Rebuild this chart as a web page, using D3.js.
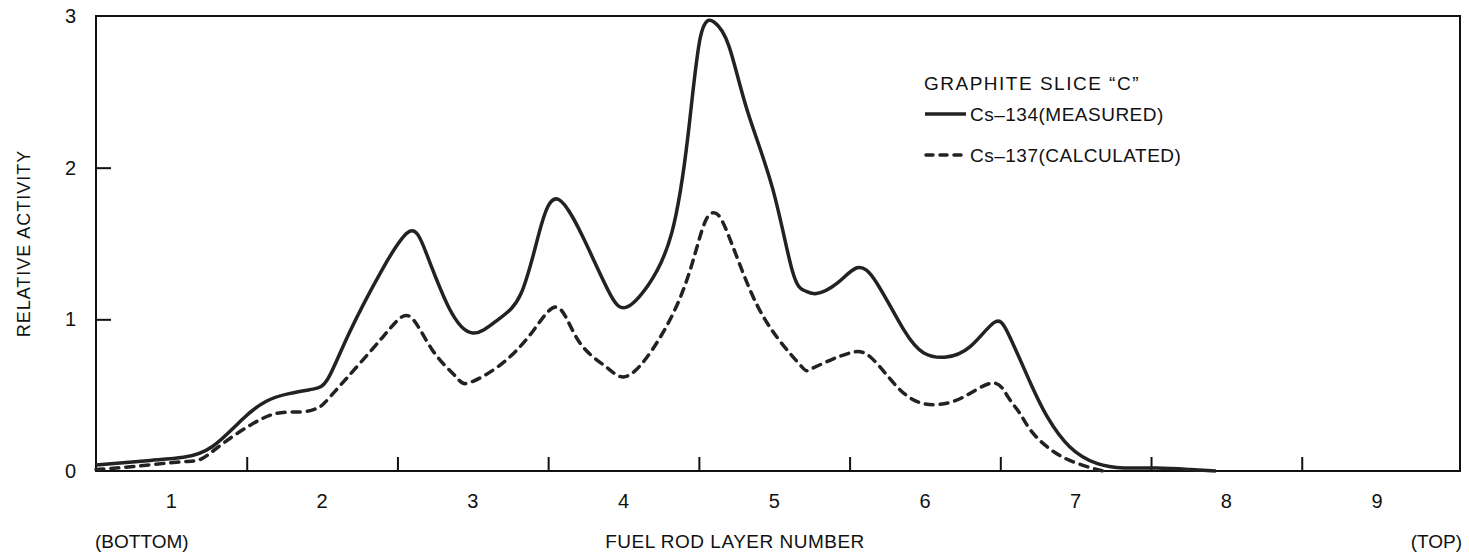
<html>
  <head>
    <script src="https://d3js.org/d3.v7.min.js"></script>
    <style>
      body { margin: 0; background: #fff; }
      text { font-family: "Liberation Sans", Arial, sans-serif; fill: #111; }
    </style>
  </head>

  <body>
    <script type="text/javascript">
      // layer position / relative activity
      var measuredX = [0.5,0.86,1.08,1.27,1.47,1.63,1.78,1.94,2.04,2.18,2.40,2.58,2.69,2.84,3.0,3.17,3.32,3.44,3.57,3.77,3.92,4.02,4.16,4.32,4.43,4.51,4.60,4.70,4.82,4.99,5.12,5.20,5.28,5.42,5.55,5.68,5.86,5.99,6.13,6.30,6.46,6.56,6.70,6.81,6.96,7.14,7.32,7.54,7.76,7.93];
      var measuredY = [0.04,0.07,0.09,0.16,0.34,0.46,0.51,0.54,0.61,0.91,1.33,1.58,1.44,1.08,0.91,1.0,1.17,1.57,1.79,1.46,1.15,1.08,1.22,1.57,2.23,2.86,2.96,2.80,2.38,1.86,1.32,1.19,1.17,1.24,1.34,1.24,0.93,0.78,0.75,0.82,0.98,0.89,0.58,0.36,0.16,0.05,0.02,0.02,0.01,0.0];
      var calcX = [0.5,0.75,1.06,1.2,1.34,1.52,1.70,1.87,1.98,2.09,2.40,2.58,2.73,2.89,2.97,3.17,3.39,3.56,3.70,3.88,4.0,4.14,4.32,4.45,4.54,4.61,4.69,4.85,5.02,5.18,5.24,5.37,5.51,5.64,5.82,5.97,6.10,6.26,6.45,6.55,6.63,6.70,6.81,6.96,7.14,7.19];
      var calcY = [0.01,0.03,0.06,0.08,0.18,0.30,0.38,0.39,0.42,0.53,0.88,1.02,0.80,0.62,0.58,0.69,0.91,1.08,0.86,0.69,0.62,0.73,1.02,1.35,1.64,1.70,1.57,1.17,0.88,0.69,0.67,0.73,0.78,0.75,0.55,0.45,0.44,0.49,0.58,0.49,0.38,0.27,0.16,0.07,0.01,0.0];
      var layers = [1,2,3,4,5,6,7,8,9];
      var layerBounds = [1.5,2.5,3.5,4.5,5.5,6.5,7.5,8.5];
      var yTicks = [0,1,2,3];
      var legendTitle = "GRAPHITE SLICE \u201CC\u201D";
      var seriesNames = ["Cs\u2013134(MEASURED)","Cs\u2013137(CALCULATED)"];

      var w = 1469, h = 557;
      var mLeft = 96, mRight = 1460, mTop = 16, mBottom = 471;
      var x = d3.scaleLinear().domain([0.5,9.55]).range([mLeft,mRight]);
      var y = d3.scaleLinear().domain([0,3]).range([mBottom,mTop]);

      var svg = d3.select("body").append("svg")
        .attr("width",w)
        .attr("height",h);

      // frame
      svg.append("rect")
        .attr("x",mLeft).attr("y",mTop)
        .attr("width",mRight-mLeft).attr("height",mBottom-mTop)
        .attr("fill","none").attr("stroke","#111").attr("stroke-width",2);

      // x ticks point inward (up), layer numbers centred in each layer
      var xAxis = d3.axisTop(x).tickValues(layerBounds).tickSize(14).tickFormat("");
      svg.append("g")
        .attr("transform","translate(0," + mBottom + ")")
        .call(xAxis)
        .call(g => g.select(".domain").remove())
        .call(g => g.selectAll("line").attr("stroke","#111").attr("stroke-width",2));

      svg.append("g").selectAll("text").data(layers).enter().append("text")
        .attr("x", d => x(d))
        .attr("y", 508)
        .attr("text-anchor","middle")
        .style("font-size","20px")
        .text(d => d);

      // y ticks inward (right), labels on the outside
      var yAxis = d3.axisRight(y).tickValues([1,2]).tickSize(15).tickFormat("");
      svg.append("g")
        .attr("transform","translate(" + mLeft + ",0)")
        .call(yAxis)
        .call(g => g.select(".domain").remove())
        .call(g => g.selectAll("line").attr("stroke","#111").attr("stroke-width",2));

      svg.append("g").selectAll("text").data(yTicks).enter().append("text")
        .attr("x", 76)
        .attr("y", d => y(d) + 7)
        .attr("text-anchor","end")
        .style("font-size","20px")
        .text(d => d);

      // axis titles
      svg.append("text")
        .attr("transform","translate(30," + ((mTop+mBottom)/2) + ") rotate(-90)")
        .attr("text-anchor","middle")
        .style("font-size","18px")
        .style("letter-spacing","1px")
        .text("RELATIVE ACTIVITY");

      svg.append("text").attr("x",95).attr("y",548)
        .style("font-size","19px")
        .text("(BOTTOM)");
      svg.append("text").attr("x",735).attr("y",548)
        .attr("text-anchor","middle")
        .style("font-size","19px").style("letter-spacing","0.5px")
        .text("FUEL ROD LAYER NUMBER");
      svg.append("text").attr("x",1462).attr("y",548)
        .attr("text-anchor","end")
        .style("font-size","19px")
        .text("(TOP)");

      // curves
      var line = d3.line()
        .x(d => x(d[0]))
        .y(d => y(Math.max(0, d[1])))
        .curve(d3.curveNatural);

      var measured = measuredX.map((v,i) => [v, measuredY[i]]);
      var calc = calcX.map((v,i) => [v, calcY[i]]);

      svg.append("path").datum(calc)
        .attr("fill","none")
        .attr("stroke","#222")
        .attr("stroke-width",3.5)
        .attr("stroke-dasharray","8,7")
        .attr("stroke-linecap","round")
        .attr("d",line);

      svg.append("path").datum(measured)
        .attr("fill","none")
        .attr("stroke","#222")
        .attr("stroke-width",3.5)
        .attr("d",line);

      // legend
      var lg = svg.append("g").attr("transform","translate(924,0)");
      lg.append("text").attr("x",0).attr("y",90)
        .style("font-size","19px").style("letter-spacing","1.5px")
        .text(legendTitle);
      lg.append("line").attr("x1",1).attr("x2",42).attr("y1",114).attr("y2",114)
        .attr("stroke","#222").attr("stroke-width",3.5);
      lg.append("line").attr("x1",2).attr("x2",42).attr("y1",155).attr("y2",155)
        .attr("stroke","#222").attr("stroke-width",3.5)
        .attr("stroke-dasharray","7,7").attr("stroke-linecap","round");
      lg.selectAll("text.s").data(seriesNames).enter().append("text")
        .attr("class","s")
        .attr("x",46)
        .attr("y",(d,i) => 121 + i*41)
        .style("font-size","19px").style("letter-spacing","0.5px")
        .text(d => d);
    </script>
  </body>
</html>
